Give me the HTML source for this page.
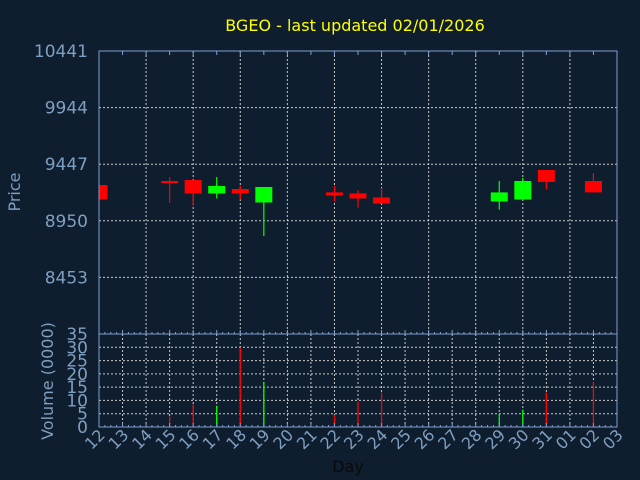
<!DOCTYPE html>
<html><head><meta charset="utf-8"><style>
html,body{margin:0;padding:0;background:#0f1e2f;}
svg{display:block;font-family:"DejaVu Sans","Liberation Sans",sans-serif;}
</style></head><body>
<svg id="s" width="640" height="480" xmlns="http://www.w3.org/2000/svg"></svg>
<script>
const s=document.getElementById('s');
let h='<rect width="640" height="480" fill="#0f1e2f"/>';
const L=99,R=617,T=51,PB=334,VB=427,dx=(R-L)/22;
const ax='#7f9fcf',gr='#c8c8c8',lab='#7f9fc0';
h+='<text x="355" y="31" fill="#ffff00" font-size="16" text-anchor="middle">BGEO - last updated 02/01/2026</text>';
// price grid
const pl=[10441,9944,9447,8950,8453];
const py=v=>T+(10441-v)/(10441-7956)*(PB-T);
pl.forEach(v=>{const y=py(v);h+=`<line x1="${L}" y1="${y}" x2="${R}" y2="${y}" stroke="${gr}" stroke-dasharray="2,2" stroke-width="1"/>`;h+=`<text x="88" y="${y+6}" fill="${lab}" font-size="17" text-anchor="end">${v}</text>`;});
for(let i=2;i<22;i+=2){const x=L+i*dx;h+=`<line x1="${x}" y1="${T}" x2="${x}" y2="${PB}" stroke="${gr}" stroke-dasharray="2,2"/>`;}
// volume grid
const vy=v=>VB-v/35*(VB-PB);
for(let v=0;v<=35;v+=5){const y=vy(v);if(v>0&&v<35)h+=`<line x1="${L}" y1="${y}" x2="${R}" y2="${y}" stroke="${gr}" stroke-dasharray="2,2"/>`;h+=`<text x="88" y="${y+6}" fill="${lab}" font-size="17" text-anchor="end">${v}</text>`;}
for(let i=1;i<22;i++){const x=L+i*dx;h+=`<line x1="${x}" y1="${PB}" x2="${x}" y2="${VB}" stroke="${gr}" stroke-dasharray="2,2"/>`;}
// candles [i, top, bottom, wickTop, wickBot, color, vol]
const R_='#ff0000',G='#00ff00';
const c=[[0,185,199.5,185,199.5,R_,0],[3,181,183,177,203,R_,4],[4,180,193.5,180,205.6,R_,8.5],[5,186,193.5,177,198.5,G,8],[6,189,193.5,186,199.5,R_,30],[7,187,202.5,187,236,G,17],
[10,192.4,195.5,186,201.5,R_,4.5],[11,193.4,198.5,190,207.6,R_,9.5],[12,197.5,203.6,188,203.6,R_,13],[17,192.4,201.5,181,209.7,G,5],[18,181,199.5,178,199.5,G,6.5],[19,170,182,170,189.4,R_,13],[21,181,192.4,173,192.4,R_,17]];
let cl='<clipPath id="cp"><rect x="'+L+'" y="'+T+'" width="'+(R-L)+'" height="'+(PB-T)+'"/></clipPath><g clip-path="url(#cp)">';
c.forEach(d=>{const x=L+d[0]*dx;cl+=`<line x1="${x}" y1="${d[3]}" x2="${x}" y2="${d[4]}" stroke="${d[5]}" stroke-width="1.2"/>`;cl+=`<rect x="${x-8.5}" y="${d[1]}" width="17" height="${Math.max(d[2]-d[1],2)}" fill="${d[5]}"/>`;
 if(d[6]>0)h+=`<line x1="${x}" y1="${vy(d[6])}" x2="${x}" y2="${VB}" stroke="${d[5]}" stroke-width="1.3"/>`;});
h+=cl+'</g>';
// axes
h+=`<rect x="${L}" y="${T}" width="${R-L}" height="${VB-T}" fill="none" stroke="${ax}" stroke-width="1"/>`;
h+=`<line x1="${L}" y1="${PB}" x2="${R}" y2="${PB}" stroke="${ax}"/>`;
const mons=['12','13','14','15','16','17','18','19','20','21','22','23','24','25','26','27','28','29','30','31','01','02','03'];
for(let i=0;i<=22;i++){const x=L+i*dx;
 h+=`<line x1="${x}" y1="${VB}" x2="${x}" y2="${VB-4}" stroke="${ax}"/><line x1="${x}" y1="${PB}" x2="${x}" y2="${PB-4}" stroke="${ax}"/><line x1="${x}" y1="${T}" x2="${x}" y2="${T+4}" stroke="${ax}"/>`;
 for(let k=1;k<4;k++){const xm=x+k*dx/4;if(xm<R){h+=`<line x1="${xm}" y1="${VB}" x2="${xm}" y2="${VB-2}" stroke="${ax}"/><line x1="${xm}" y1="${PB}" x2="${xm}" y2="${PB-2}" stroke="${ax}"/>`;}}
 h+=`<text transform="translate(${x+7},${436}) rotate(-45)" fill="${lab}" font-size="16" text-anchor="end">${mons[i]}</text>`;}
h+=`<text transform="translate(20,192) rotate(-90)" fill="${lab}" font-size="16" text-anchor="middle">Price</text>`;
h+=`<text transform="translate(53,381) rotate(-90)" fill="${lab}" font-size="16" text-anchor="middle">Volume (0000)</text>`;
h+=`<text x="348" y="472" fill="#0a0a0a" font-size="16" text-anchor="middle">Day</text>`;
s.innerHTML=h;
</script>
</body></html>
